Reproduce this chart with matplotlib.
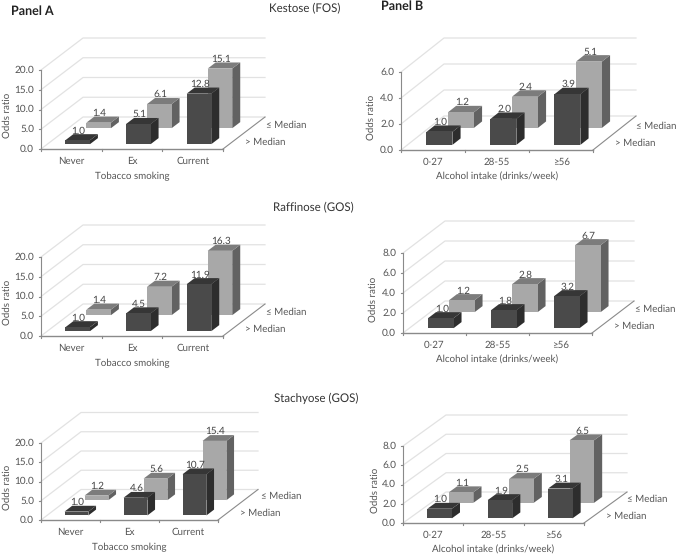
import matplotlib
matplotlib.use('Agg')
import matplotlib.pyplot as plt
from matplotlib.patches import Polygon

plt.rcParams['font.family'] = ['Lato', 'DejaVu Sans']
plt.rcParams['text.hinting'] = 'no_hinting'

tobacco_cats = ['Never', 'Ex', 'Current']
alcohol_cats = ['0-27', '28-55', '≥56']

kestose_tob_high = [1.0, 5.1, 12.8]
kestose_tob_low = [1.4, 6.1, 15.1]
kestose_alc_high = [1.0, 2.0, 3.9]
kestose_alc_low = [1.2, 2.4, 5.1]

raffinose_tob_high = [1.0, 4.5, 11.9]
raffinose_tob_low = [1.4, 7.2, 16.3]
raffinose_alc_high = [1.0, 1.8, 3.2]
raffinose_alc_low = [1.2, 2.8, 6.7]

stachyose_tob_high = [1.0, 4.6, 10.7]
stachyose_tob_low = [1.2, 5.6, 15.4]
stachyose_alc_high = [1.0, 1.9, 3.1]
stachyose_alc_low = [1.1, 2.5, 6.5]

tob_ticks = [0.0, 5.0, 10.0, 15.0, 20.0]
alc_ticks_top = [0.0, 2.0, 4.0, 6.0]
alc_ticks = [0.0, 2.0, 4.0, 6.0, 8.0]

FRONT = ('#4a4a4a', '#2d2d2d', '#363636')
BACK = ('#a8a8a8', '#626262', '#7c7c7c')
TXT = '#555555'
GRID = '#e2e2e2'
AXIS = '#8a8a8a'

fig = plt.figure(figsize=(6.76, 5.55), dpi=100)
ax = fig.add_axes([0, 0, 1, 1])
ax.set_xlim(0, 676)
ax.set_ylim(555, 0)
ax.axis('off')


def bar(box, cat, val, row, colors, ticks, ncat):
    x0, y0, xend, ytop, dx, dy = box[:6]
    cw = (xend - x0) / ncat
    scale = (y0 - ytop) / ticks[-1]
    width = 0.405 * cw
    f0, f1 = row, row + 0.19
    xc = x0 + cw * (cat + 0.5)
    left = xc - width / 2 + dx * f0
    right = left + width
    bottom = y0 - dy * f0
    top = bottom - val * scale
    ox = dx * (f1 - f0)
    oy = dy * (f1 - f0)
    # side, top, then the front face
    ax.add_patch(Polygon([(right, bottom), (right + ox, bottom - oy), (right + ox, top - oy), (right, top)],
                         fc=colors[1], ec='none', zorder=3))
    ax.add_patch(Polygon([(left, top), (right, top), (right + ox, top - oy), (left + ox, top - oy)],
                         fc=colors[2], ec='none', zorder=3))
    ax.add_patch(Polygon([(left, bottom), (right, bottom), (right, top), (left, top)],
                         fc=colors[0], ec='none', zorder=3))
    ax.text((left + right) / 2 + 1, top - oy - 3.5, '%.1f' % val, ha='center', va='center',
            fontsize=7.2, color='#444444', zorder=4)


def panel(box, cats, high, low, ticks, xlabel):
    x0, y0, xend, ytop, dx, dy, ylab_x = box
    scale = (y0 - ytop) / ticks[-1]
    for t in ticks:
        y = y0 - t * scale
        ax.plot([x0, x0 + dx, xend + dx], [y, y - dy, y - dy], color=GRID, lw=0.9, zorder=1)
        ax.plot([x0 - 2, x0], [y, y], color=AXIS, lw=0.8, zorder=2)
        ax.text(x0 - 7, y, '%.1f' % t, ha='right', va='center', fontsize=7.2, color=TXT)
    ax.plot([x0, x0], [y0, ytop], color=AXIS, lw=0.8, zorder=2)
    ax.plot([x0, xend], [y0, y0], color=AXIS, lw=1.0, zorder=2)
    ax.plot([xend, xend + dx], [y0, y0 - dy], color=AXIS, lw=0.8, zorder=2)
    cw = (xend - x0) / len(cats)
    for i in range(len(cats) + 1):
        ax.plot([x0 + i * cw] * 2, [y0, y0 + 2], color=AXIS, lw=0.8, zorder=2)
    for i, c in enumerate(cats):
        ax.text(x0 + cw * (i + 0.5), y0 + 12, c, ha='center', va='center', fontsize=7, color=TXT)
    ax.text((x0 + xend) / 2, y0 + 27, xlabel, ha='center', va='center', fontsize=7, color=TXT)
    ax.text(ylab_x, (y0 + ytop) / 2 + 6, 'Odds ratio', rotation=90, ha='center', va='center',
            fontsize=7, color=TXT)
    ax.text(xend + 43, y0 - 24, '≤ Median', ha='left', va='center', fontsize=7, color=TXT)
    ax.text(xend + 22, y0 - 7, '> Median', ha='left', va='center', fontsize=7, color=TXT)
    for i in range(len(cats)):
        bar(box, i, low[i], 0.65, BACK, ticks, len(cats))
    for i in range(len(cats)):
        bar(box, i, high[i], 0.15, FRONT, ticks, len(cats))


# x0, y0, x end, y of top tick, depth x, depth y, y label x
panel((41, 149, 223, 70, 42, 32, 7), tobacco_cats, kestose_tob_high, kestose_tob_low, tob_ticks, 'Tobacco smoking')
panel((401, 150, 593, 72, 43, 34, 371), alcohol_cats, kestose_alc_high, kestose_alc_low, alc_ticks_top,
      'Alcohol intake (drinks/week)')
panel((41, 336, 223, 257, 42, 32, 7), tobacco_cats, raffinose_tob_high, raffinose_tob_low, tob_ticks, 'Tobacco smoking')
panel((403, 333, 592, 253, 42, 32, 373), alcohol_cats, raffinose_alc_high, raffinose_alc_low, alc_ticks,
      'Alcohol intake (drinks/week)')
panel((41, 520, 218, 443, 40, 30.5, 7), tobacco_cats, stachyose_tob_high, stachyose_tob_low, tob_ticks, 'Tobacco smoking')
panel((403, 523, 584, 446, 43, 31, 375), alcohol_cats, stachyose_alc_high, stachyose_alc_low, alc_ticks,
      'Alcohol intake (drinks/week)')

ax.text(11, 11, 'Panel A', fontsize=9, fontweight='bold', color='#222222', va='center')
ax.text(381, 6, 'Panel B', fontsize=9, fontweight='bold', color='#222222', va='center')
ax.text(269, 9, 'Kestose (FOS)', fontsize=8.3, color='#333333', va='center')
ax.text(273, 208, 'Raffinose (GOS)', fontsize=8.3, color='#333333', va='center')
ax.text(274, 398, 'Stachyose (GOS)', fontsize=8.3, color='#333333', va='center')

fig.savefig('out.png', dpi=100)
